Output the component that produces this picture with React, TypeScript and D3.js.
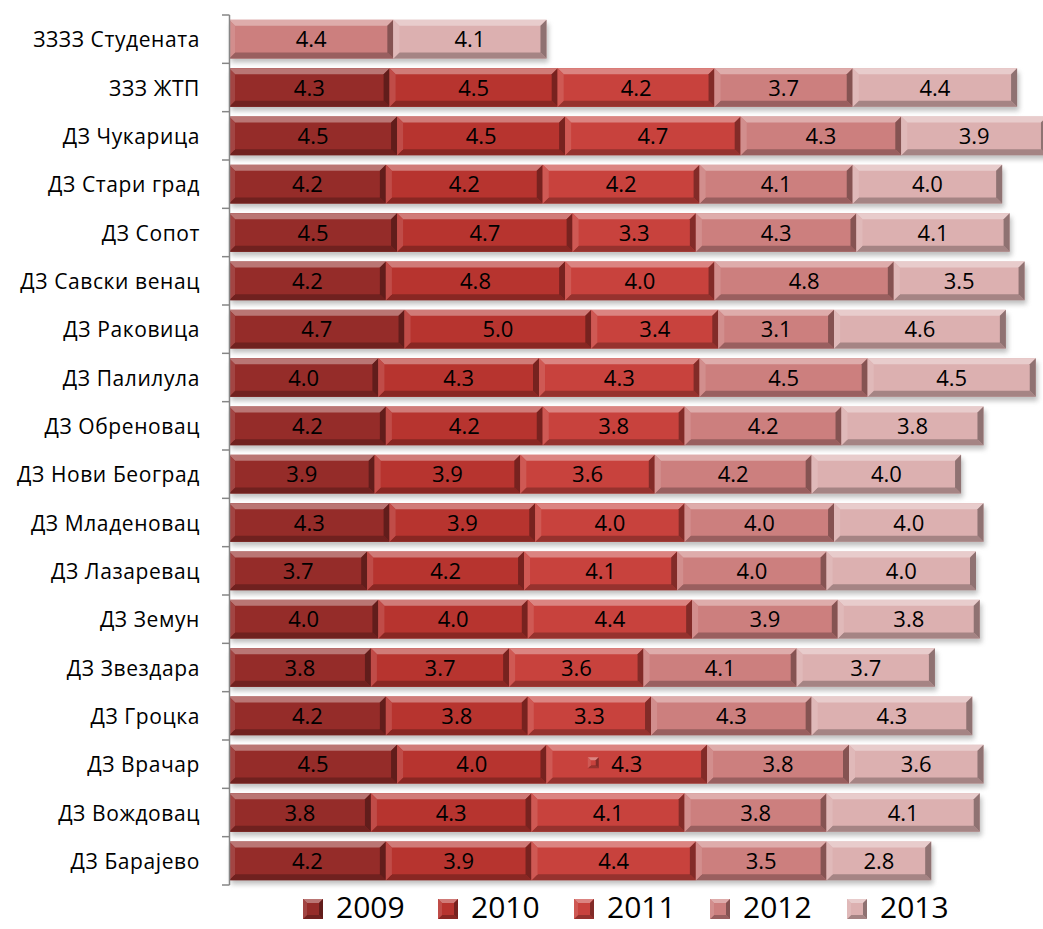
import React from "react";
import * as d3 from "d3";

const categories = [
  "ЗЗЗЗ Студената",
  "ЗЗЗ ЖТП",
  "ДЗ Чукарица",
  "ДЗ Стари град",
  "ДЗ Сопот",
  "ДЗ Савски венац",
  "ДЗ Раковица",
  "ДЗ Палилула",
  "ДЗ Обреновац",
  "ДЗ Нови Београд",
  "ДЗ Младеновац",
  "ДЗ Лазаревац",
  "ДЗ Земун",
  "ДЗ Звездара",
  "ДЗ Гроцка",
  "ДЗ Врачар",
  "ДЗ Вождовац",
  "ДЗ Барајево",
];

const seriesNames = ["2009", "2010", "2011", "2012", "2013"];

const v2009 = [null, 4.3, 4.5, 4.2, 4.5, 4.2, 4.7, 4.0, 4.2, 3.9, 4.3, 3.7, 4.0, 3.8, 4.2, 4.5, 3.8, 4.2];
const v2010 = [null, 4.5, 4.5, 4.2, 4.7, 4.8, 5.0, 4.3, 4.2, 3.9, 3.9, 4.2, 4.0, 3.7, 3.8, 4.0, 4.3, 3.9];
const v2011 = [null, 4.2, 4.7, 4.2, 3.3, 4.0, 3.4, 4.3, 3.8, 3.6, 4.0, 4.1, 4.4, 3.6, 3.3, 4.3, 4.1, 4.4];
const v2012 = [4.4, 3.7, 4.3, 4.1, 4.3, 4.8, 3.1, 4.5, 4.2, 4.2, 4.0, 4.0, 3.9, 4.1, 4.3, 3.8, 3.8, 3.5];
const v2013 = [4.1, 4.4, 3.9, 4.0, 4.1, 3.5, 4.6, 4.5, 3.8, 4.0, 4.0, 4.0, 3.8, 3.7, 4.3, 3.6, 4.1, 2.8];

const seriesValues = [v2009, v2010, v2011, v2012, v2013];
const seriesColors = ["#952c29", "#b7342f", "#c8423d", "#cc7f7e", "#dcb0b0"];

const W = 1043;
const H = 929;
const FONT = "'Open Sans', 'Noto Sans', sans-serif";

function mix(c: string, target: string, t: number) {
  return d3.interpolateRgb(c, target)(t);
}

function BevelRect({ x0, x1, y, h, color, b = 6 }: any) {
  const w = x1 - x0;
  if (w <= 0) return null;
  const bb = Math.min(b, w / 2, h / 2);
  const light = mix(color, "#ffffff", 0.35);
  const lighter = mix(color, "#ffffff", 0.12);
  const dark = mix(color, "#000000", 0.25);
  const darker = mix(color, "#000000", 0.35);
  const pts = (arr: number[][]) => arr.map((p) => p.join(",")).join(" ");
  return (
    <g>
      <rect x={x0} y={y} width={w} height={h} fill={color} />
      <polygon points={pts([[x0, y], [x1, y], [x1 - bb, y + bb], [x0 + bb, y + bb]])} fill={light} />
      <polygon points={pts([[x0, y + h], [x1, y + h], [x1 - bb, y + h - bb], [x0 + bb, y + h - bb]])} fill={dark} />
      <polygon points={pts([[x0, y], [x0 + bb, y + bb], [x0 + bb, y + h - bb], [x0, y + h]])} fill={lighter} />
      <polygon points={pts([[x1, y], [x1 - bb, y + bb], [x1 - bb, y + h - bb], [x1, y + h]])} fill={darker} />
    </g>
  );
}

export default function App() {
  const x = d3.scaleLinear().domain([0, 22]).range([229, 229 + 22 * 37.35]);
  const y = d3
    .scaleBand<string>()
    .domain(categories)
    .range([15, 885])
    .paddingInner(0.2)
    .paddingOuter(0.1);

  const rows = categories.map((c, i) => {
    const obj: any = { cat: c };
    seriesNames.forEach((s, k) => {
      obj[s] = seriesValues[k][i] ?? 0;
    });
    return obj;
  });
  const stacked = d3.stack<any>().keys(seriesNames)(rows);

  const bh = y.bandwidth();
  const ticks = d3.range(categories.length + 1).map((i) => 15 + (870 / categories.length) * i);

  const legendX = [303, 438, 574, 710, 847];

  return (
    <svg
      width={W}
      height={H}
      style={{ position: "absolute", left: 0, top: 0, background: "#fff" }}
    >
      <defs>
        <filter id="sh" x="-5%" y="-50%" width="110%" height="200%">
          <feGaussianBlur stdDeviation="2.5" />
        </filter>
      </defs>
      {/* shadows */}
      {categories.map((c, i) => {
        const total = seriesValues.reduce((a, s) => a + (s[i] ?? 0), 0);
        return (
          <rect
            key={"sh" + i}
            x={x(0) + 2}
            y={(y(c) as number) + 4}
            width={x(total) - x(0)}
            height={bh}
            fill="#8a8a8a"
            opacity={0.55}
            filter="url(#sh)"
          />
        );
      })}
      {/* bars */}
      {stacked.map((layer, k) =>
        layer.map((d, i) => {
          const val = seriesValues[k][i];
          if (val == null) return null;
          const x0 = x(d[0]);
          const x1 = x(d[1]);
          const yy = y(categories[i]) as number;
          return (
            <g key={k + "-" + i}>
              <BevelRect x0={x0} x1={x1} y={yy} h={bh} color={seriesColors[k]} />
              <text
                x={(x0 + x1) / 2}
                y={yy + bh / 2 + 8}
                textAnchor="middle"
                fontFamily={FONT}
                fontSize={22}
                fill="#000"
              >
                {val.toFixed(1)}
              </text>
              {categories[i] === "ДЗ Врачар" && k === 2 ? (
                <BevelRect
                  x0={(x0 + x1) / 2 - 39}
                  x1={(x0 + x1) / 2 - 28}
                  y={yy + bh / 2 - 7}
                  h={11}
                  color={seriesColors[k]}
                  b={3}
                />
              ) : null}
            </g>
          );
        })
      )}
      {/* axis */}
      <line x1={229.5} x2={229.5} y1={15} y2={885} stroke="#868686" strokeWidth={1.5} />
      {ticks.map((t, i) => (
        <line key={"t" + i} x1={222} x2={229.5} y1={t} y2={t} stroke="#868686" strokeWidth={1.5} />
      ))}
      {categories.map((c) => (
        <text
          key={"l" + c}
          x={200}
          y={(y(c) as number) + bh / 2 + 8}
          textAnchor="end"
          fontFamily={FONT}
          fontSize={21}
          letterSpacing={0.6}
          fill="#000"
        >
          {c}
        </text>
      ))}
      {/* legend */}
      {seriesNames.map((s, k) => (
        <g key={"lg" + s}>
          <BevelRect x0={legendX[k]} x1={legendX[k] + 20} y={899} h={20} color={seriesColors[k]} b={4} />
          <text
            x={legendX[k] + 33}
            y={918}
            fontFamily={FONT}
            fontSize={30}
            fill="#000"
          >
            {s}
          </text>
        </g>
      ))}
    </svg>
  );
}
